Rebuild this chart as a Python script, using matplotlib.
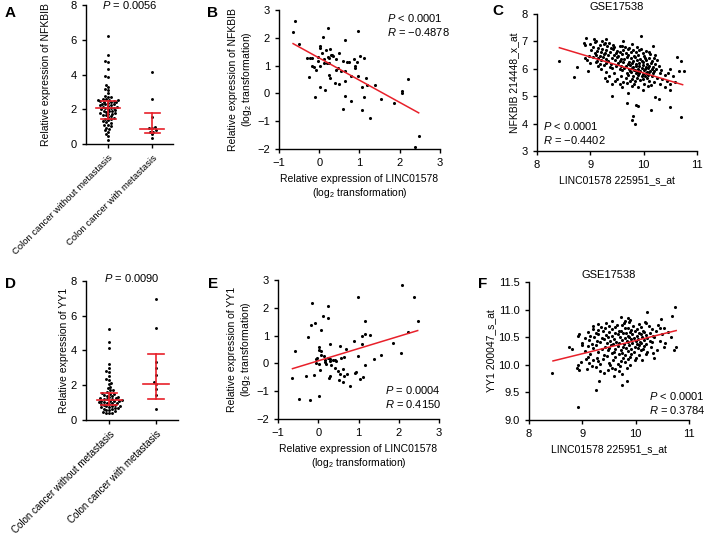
import numpy as np
import pandas as pd
import matplotlib
matplotlib.use("Agg")
import matplotlib.pyplot as plt
import seaborn as sns
from matplotlib.ticker import FormatStrFormatter

plt.rcParams['font.family'] = ['Liberation Sans', 'DejaVu Sans']
plt.rcParams['mathtext.fontset'] = 'custom'
plt.rcParams['mathtext.rm'] = 'Liberation Sans'
plt.rcParams['mathtext.it'] = 'Liberation Sans:italic'
plt.rcParams['font.size'] = 8

RED = "#e8202a"

groups = ["Colon cancer without metastasis", "Colon cancer with metastasis"]

# panel A: NFKBIB relative expression
a_no_met = [6.2, 5.12, 4.75, 4.7, 4.3, 3.9, 3.85, 3.4, 3.28, 3.15, 3.1, 2.93, 2.75, 2.72, 2.68,
            2.58, 2.57, 2.55, 2.54, 2.52, 2.5,
            2.45, 2.44, 2.42, 2.4, 2.38,
            2.32, 2.3, 2.28, 2.25, 2.22, 2.2,
            2.15, 2.12, 2.1, 2.08, 2.05, 2.03, 2.0,
            1.95, 1.92, 1.9, 1.88, 1.85,
            1.8, 1.78, 1.75, 1.72,
            1.68, 1.65, 1.6, 1.55,
            1.5, 1.45, 1.42, 1.38,
            1.3, 1.25, 1.2,
            1.12, 1.08, 1.02,
            0.95, 0.88, 0.78, 0.72, 0.6, 0.48, 0.22]
a_met = [4.12, 2.58, 1.55, 1.0, 0.95, 0.9, 0.82, 0.72, 0.68, 0.55, 0.35]
a_median = [2.05, 0.86]
a_q1 = [1.42, 0.65]
a_q3 = [2.48, 1.8]

# panel D: YY1 relative expression
d_no_met = [5.25, 4.5, 4.15, 3.2, 3.0, 2.8, 2.75, 2.55, 2.38, 2.32, 2.12, 2.05, 1.92, 1.85,
            1.75, 1.72, 1.6, 1.55, 1.5, 1.48, 1.42, 1.4, 1.38, 1.32, 1.3, 1.28, 1.25,
            1.22, 1.2, 1.18, 1.15, 1.12, 1.1, 1.1, 1.08, 1.05, 1.02, 1.0, 0.98, 0.95,
            0.92, 0.9, 0.88, 0.85, 0.82, 0.8, 0.78, 0.75, 0.72, 0.7, 0.68, 0.65, 0.62,
            0.6, 0.55, 0.5, 0.45, 0.42, 0.4, 0.38]
d_met = [6.99, 5.3, 3.35, 2.99, 2.61, 2.19, 2.07, 1.79, 1.42, 0.65]
d_median = [1.15, 2.05]
d_q1 = [0.86, 1.22]
d_q3 = [1.55, 3.8]

# panel B: LINC01578 vs NFKBIB (log2)
b_x = [-0.60, -0.66, -0.50, 0.21, 0.10, 0.97, 0.65, 0.02, 0.02, 0.17, 0.27, 0.07, 0.50,
       -0.31, -0.22, -0.19, -0.02, 0.21, 0.24, 0.28, 0.32, 0.35, 0.42, 0.59, 0.70, 0.74,
       1.01, 1.10, 0.93, 0.89, 0.90, -0.17, -0.12, -0.07, -0.03, 0.02, 0.13, 0.19, 0.23,
       0.42, 0.47, 0.55, 0.64, -0.26, 0.23, 0.26, 0.38, 0.49, 0.63, 0.78, 0.96, 1.15,
       0.02, 0.14, 1.07, 1.18, 1.39, -0.10, 0.65, 0.78, 1.12, 1.54, 0.59, 1.05, 1.85,
       2.05, 2.06, 2.21, 1.26, 2.49, 2.37, 0.13, 0.86]
b_y = [2.62, 2.22, 1.79, 2.35, 2.03, 2.23, 1.93, 1.69, 1.63, 1.56, 1.59, 1.45, 1.44,
       1.27, 1.27, 1.27, 1.30, 1.32, 1.27, 1.39, 1.39, 1.36, 1.25, 1.15, 1.13, 1.12,
       1.33, 1.27, 1.12, 0.97, 0.91, 0.99, 0.94, 0.85, 1.15, 0.97, 1.09, 1.09, 1.09,
       0.85, 0.91, 0.82, 0.79, 0.58, 0.67, 0.55, 0.37, 0.35, 0.46, 0.61, 0.64, 0.55,
       0.22, 0.13, 0.23, 0.29, 0.30, -0.13, -0.11, -0.29, -0.14, -0.20, -0.55, -0.61, -0.33,
       0.07, 0.01, 0.52, -0.89, -1.53, -1.94, 1.25, 1.23]
b_fit_x = [-0.65, 2.47]
b_fit_y = [1.79, -0.70]

# panel E: LINC01578 vs YY1 (log2)
e_x = [2.07, 2.39, 2.49, 2.24, 2.06, 1.86, 0.98, -0.16, 0.25, 0.11, 0.23, -0.17, -0.07,
       0.07, -0.25, -0.58, 0.03, 0.03, 0.06, 0.28, 0.53, 0.70, 0.88, 1.08, 1.15, 1.17,
       1.28, 1.08, 0.99, 1.39, 1.55, 1.17, -0.04, 0.07, 0.15, 0.18, 0.23, 0.28, 0.36,
       0.41, 0.44, 0.57, 0.65, 0.17, 0.28, 0.01, 0.19, 0.32, 0.41, 0.49, 0.61, 0.55,
       0.65, 0.72, 0.05, 0.26, 0.29, 0.51, 0.61, 0.79, 0.91, 0.95, 1.03, 1.10, -0.10,
       -0.30, -0.66, -0.49, -0.21, 0.03, -0.05, -0.06]
e_y = [2.81, 2.39, 1.54, 1.13, 0.36, 0.73, 2.40, 2.16, 2.05, 1.72, 1.63, 1.38, 1.44,
       1.21, 0.94, 0.46, 0.58, 0.49, 0.46, 0.71, 0.61, 0.52, 0.82, 0.97, 1.07, 1.54,
       1.02, 0.70, 0.28, 0.16, 0.31, -0.07, 0.19, 0.31, 0.25, 0.13, 0.18, 0.16, 0.13,
       0.13, 0.07, 0.19, 0.22, 0.04, 0.07, -0.02, -0.02, -0.07, -0.17, -0.29, -0.19, -0.39,
       -0.47, -0.38, -0.23, -0.51, -0.44, -0.59, -0.67, -0.80, -0.33, -0.32, -0.56, -0.50, -0.41,
       -0.47, -0.53, -1.28, -1.33, -1.16, 0.17, 0.01]
e_fit_x = [-0.64, 2.47]
e_fit_y = [-0.19, 1.18]

# panel C: GSE17538 LINC01578 vs NFKBIB
c_x = [8.92, 9.06, 9.10, 9.30,
       9.09, 9.22, 9.28, 9.61, 9.95,
       8.88, 8.90, 9.00, 9.18, 9.25, 9.35, 9.42, 9.60, 9.78, 10.18,
       9.05, 9.15, 9.32, 9.38, 9.45, 9.55, 9.65, 9.72, 9.88, 9.95,
       9.02, 9.12, 9.22, 9.30, 9.42, 9.50, 9.62, 9.70, 9.80, 9.92, 10.05,
       9.08, 9.20, 9.28, 9.36, 9.48, 9.56, 9.66, 9.76, 9.86, 9.98, 10.10,
       8.98, 9.10, 9.18, 9.26, 9.34, 9.44, 9.52, 9.60, 9.70, 9.82, 9.90, 10.00, 10.12, 10.22,
       8.90, 9.05, 9.14, 9.24, 9.30, 9.40, 9.50, 9.58, 9.68, 9.76, 9.84, 9.94, 10.02, 10.10, 10.20, 10.63,
       8.41, 8.94, 9.12, 9.20, 9.34, 9.46, 9.56, 9.64, 9.72, 9.80, 9.88, 9.96, 10.04, 10.15, 10.25, 10.70,
       9.00, 9.10, 9.18, 9.30, 9.38, 9.52, 9.62, 9.70, 9.78, 9.85, 9.92, 9.98, 10.06, 10.14, 10.22,
       9.15, 9.26, 9.36, 9.48, 9.58, 9.66, 9.74, 9.80, 9.86, 9.92, 9.98, 10.04, 10.10, 10.18, 10.28,
       8.75, 9.20, 9.40, 9.55, 9.64, 9.72, 9.78, 9.84, 9.90, 9.96, 10.02, 10.08, 10.16, 10.24, 10.32, 10.50,
       8.95, 9.30, 9.60, 9.74, 9.82, 9.88, 9.94, 10.00, 10.06, 10.12, 10.20, 10.66, 10.75,
       9.45, 9.68, 9.76, 9.86, 9.92, 9.98, 10.04, 10.10, 10.18, 10.30, 10.45,
       8.70, 9.35, 9.58, 9.70, 9.80, 9.90, 9.96, 10.02, 10.08, 10.16, 10.40, 10.55,
       9.28, 9.50, 9.66, 9.78, 9.88, 9.98, 10.06, 10.25, 10.35,
       9.32, 9.46, 9.62, 9.74, 9.84, 9.94, 10.10, 10.20, 10.44, 10.58,
       9.40, 9.55, 9.68, 9.82, 10.00, 10.14, 10.30, 10.50,
       9.60, 9.78, 9.90, 10.08, 10.40,
       9.98, 10.50, 9.71, 9.41, 10.22, 10.28, 9.69, 9.86, 9.89, 10.49, 10.13, 9.80, 10.70, 9.78, 9.84]
c_y = [7.12, 7.09, 7.03, 7.10,
       6.98, 7.02, 6.95, 7.00, 7.18,
       6.93, 6.88, 6.90, 6.86, 6.92, 6.94, 6.87, 6.85, 6.91, 6.84,
       6.80, 6.77, 6.82, 6.76, 6.79, 6.83, 6.78, 6.75, 6.81, 6.74,
       6.70, 6.66, 6.72, 6.68, 6.71, 6.65, 6.69, 6.73, 6.67, 6.70, 6.64,
       6.58, 6.62, 6.57, 6.61, 6.59, 6.63, 6.56, 6.60, 6.62, 6.58, 6.61,
       6.48, 6.52, 6.46, 6.53, 6.49, 6.51, 6.47, 6.54, 6.50, 6.46, 6.52, 6.48, 6.53, 6.50,
       6.40, 6.43, 6.38, 6.42, 6.36, 6.41, 6.44, 6.37, 6.42, 6.39, 6.43, 6.36, 6.41, 6.38, 6.40, 6.42,
       6.30, 6.33, 6.28, 6.32, 6.27, 6.31, 6.29, 6.34, 6.26, 6.30, 6.33, 6.28, 6.31, 6.27, 6.32, 6.27,
       6.20, 6.23, 6.18, 6.22, 6.17, 6.21, 6.24, 6.19, 6.22, 6.16, 6.20, 6.23, 6.18, 6.21, 6.17,
       6.10, 6.13, 6.08, 6.12, 6.09, 6.11, 6.14, 6.07, 6.12, 6.09, 6.13, 6.08, 6.11, 6.07, 6.10,
       6.05, 6.00, 6.03, 5.98, 6.02, 5.99, 6.04, 5.97, 6.01, 6.03, 5.98, 6.02, 5.99, 6.01, 5.97, 6.00,
       5.93, 5.90, 5.94, 5.91, 5.95, 5.89, 5.92, 5.94, 5.90, 5.93, 5.91, 5.93, 5.91,
       5.85, 5.83, 5.87, 5.84, 5.86, 5.82, 5.85, 5.88, 5.83, 5.86, 5.84,
       5.69, 5.75, 5.73, 5.77, 5.74, 5.76, 5.72, 5.75, 5.78, 5.73, 5.76, 5.74,
       5.65, 5.63, 5.67, 5.64, 5.66, 5.62, 5.65, 5.67, 5.63,
       5.55, 5.57, 5.53, 5.56, 5.54, 5.58, 5.55, 5.53, 5.56, 5.52,
       5.45, 5.43, 5.47, 5.44, 5.46, 5.42, 5.45, 5.44,
       5.35, 5.37, 5.33, 5.36, 5.34,
       5.23, 5.23, 5.10, 5.02, 4.96, 4.90, 4.74, 4.69, 4.65, 4.59, 4.50, 4.29, 4.23, 4.13, 3.97]
c_fit_x = [8.42, 10.73]
c_fit_y = [6.77, 5.42]

# panel F: GSE17538 LINC01578 vs YY1
f_x = [9.72, 9.85, 10.48,
       9.55, 9.80, 9.90, 10.18,
       9.30, 9.45, 9.65, 9.78, 9.88, 10.06, 10.20, 10.42,
       9.20, 9.35, 9.50, 9.62, 9.75, 9.85, 9.95, 10.10, 10.25, 10.53,
       9.20, 9.30, 9.42, 9.55, 9.68, 9.80, 9.92, 10.02, 10.14, 10.30, 10.45,
       9.10, 9.25, 9.38, 9.50, 9.62, 9.72, 9.82, 9.90, 9.98, 10.06, 10.15, 10.26, 10.38, 10.60,
       8.94, 9.15, 9.30, 9.44, 9.56, 9.66, 9.76, 9.86, 9.94, 10.02, 10.10, 10.20, 10.32, 10.50,
       8.92, 9.05, 9.22, 9.36, 9.48, 9.60, 9.70, 9.80, 9.88, 9.96, 10.04, 10.12, 10.22, 10.35, 10.66,
       9.12, 9.28, 9.40, 9.52, 9.64, 9.74, 9.84, 9.92, 10.00, 10.08, 10.16, 10.26, 10.45,
       9.00, 9.18, 9.34, 9.46, 9.58, 9.68, 9.78, 9.86, 9.94, 10.02, 10.10, 10.20, 10.30, 10.55,
       8.99, 9.10, 9.26, 9.42, 9.54, 9.66, 9.76, 9.88, 9.98, 10.06, 10.16, 10.28, 10.53,
       8.75, 8.80, 9.20, 9.36, 9.50, 9.62, 9.72, 9.82, 9.92, 10.04, 10.14, 10.40, 10.75, 10.72,
       9.05, 9.30, 9.48, 9.60, 9.74, 9.86, 9.96, 10.10, 10.22, 10.32,
       9.15, 9.40, 9.55, 9.68, 9.80, 9.92, 10.06, 10.20,
       9.10, 9.28, 9.46, 9.62, 9.76, 9.90, 10.00, 10.34,
       9.06, 9.20, 9.38, 9.58, 9.72, 9.85, 9.98, 10.12,
       8.98, 9.12, 9.30, 9.50, 9.66, 9.80,
       8.92, 9.18, 9.33, 9.52, 9.70, 9.90,
       8.90, 9.08, 9.25, 9.56, 9.62, 9.83,
       8.94, 9.33, 9.48, 9.69,
       8.44, 9.40, 9.75, 9.60, 9.31, 9.83, 9.74, 9.26, 8.91, 10.73, 10.22, 10.68]
f_y = [10.86, 10.84, 10.83,
       10.80, 10.79, 10.81, 10.78,
       10.74, 10.76, 10.73, 10.75, 10.77, 10.74, 10.76, 10.73,
       10.70, 10.68, 10.71, 10.69, 10.72, 10.67, 10.70, 10.68, 10.71, 10.66,
       10.65, 10.63, 10.66, 10.64, 10.62, 10.66, 10.63, 10.65, 10.62, 10.64, 10.66,
       10.60, 10.58, 10.61, 10.59, 10.57, 10.61, 10.58, 10.60, 10.62, 10.57, 10.60, 10.58, 10.61, 10.59,
       10.55, 10.53, 10.56, 10.54, 10.52, 10.55, 10.57, 10.53, 10.55, 10.52, 10.56, 10.54, 10.53, 10.56,
       10.52, 10.49, 10.50, 10.48, 10.51, 10.47, 10.50, 10.48, 10.51, 10.49, 10.47, 10.50, 10.48, 10.51, 10.51,
       10.45, 10.43, 10.46, 10.44, 10.42, 10.45, 10.43, 10.46, 10.44, 10.42, 10.45, 10.43, 10.44,
       10.40, 10.38, 10.41, 10.39, 10.37, 10.40, 10.38, 10.41, 10.39, 10.37, 10.40, 10.38, 10.41, 10.39,
       10.36, 10.34, 10.35, 10.33, 10.36, 10.34, 10.32, 10.35, 10.33, 10.36, 10.34, 10.33, 10.33,
       10.32, 10.28, 10.30, 10.28, 10.31, 10.29, 10.27, 10.30, 10.28, 10.31, 10.29, 10.27, 10.32, 10.26,
       10.25, 10.23, 10.26, 10.24, 10.22, 10.25, 10.23, 10.26, 10.24, 10.22,
       10.20, 10.18, 10.21, 10.19, 10.17, 10.20, 10.18, 10.19,
       10.15, 10.13, 10.16, 10.14, 10.12, 10.15, 10.13, 10.12,
       10.10, 10.08, 10.11, 10.09, 10.07, 10.10, 10.08, 10.09,
       10.05, 10.03, 10.06, 10.04, 10.02, 10.05,
       10.00, 9.98, 10.01, 9.99, 9.97, 10.00,
       9.95, 9.93, 9.96, 9.94, 9.92, 9.95,
       9.90, 9.89, 9.91, 9.88,
       9.85, 9.85, 9.84, 9.80, 9.71, 9.71, 9.63, 9.54, 9.24, 11.04, 10.96, 10.89]
f_fit_x = [8.45, 10.76]
f_fit_y = [10.07, 10.62]


def style(ax):
    for s in ["top", "right"]:
        ax.spines[s].set_visible(False)
    ax.spines["left"].set_linewidth(1.0)
    ax.spines["bottom"].set_linewidth(1.0)
    ax.tick_params(direction="out", length=3, width=1, labelsize=8)


def swarm_panel(ax, g1, g2, med, q1, q3, pval, ylabel, ypad, xfs):
    df = pd.DataFrame({"grp": [groups[0]] * len(g1) + [groups[1]] * len(g2),
                       "val": g1 + g2})
    sns.swarmplot(data=df, x="grp", y="val", order=groups, ax=ax,
                  color="black", size=2.1, linewidth=0)
    for i in range(2):
        ax.plot([i - 0.27, i + 0.27], [med[i], med[i]], color=RED, lw=1.2, zorder=5)
        ax.plot([i - 0.17, i + 0.17], [q1[i], q1[i]], color=RED, lw=1.2, zorder=5)
        ax.plot([i - 0.17, i + 0.17], [q3[i], q3[i]], color=RED, lw=1.2, zorder=5)
        ax.plot([i, i], [q1[i], q3[i]], color=RED, lw=1.2, zorder=5)
    style(ax)
    ax.set_xlim(-0.5, 1.47)
    ax.set_ylim(0, 8)
    ax.set_yticks([0, 2, 4, 6, 8])
    ax.set_xlabel("")
    ax.set_ylabel(ylabel, fontsize=7.5, labelpad=ypad)
    ax.set_xticks([0, 1])
    ax.set_xticklabels(groups, rotation=45, ha="right", rotation_mode="anchor", fontsize=xfs)
    ax.text(0.5, 1.0, pval, transform=ax.transAxes, ha="center", va="center", fontsize=8)


def scatter_panel(ax, x, y, fx, fy, xlim, ylim, xticks, yticks, xlabel, ylabel,
                  txt, tx, ty, ha="left"):
    ax.scatter(x, y, s=5, color="black", linewidths=0, zorder=3)
    ax.plot(fx, fy, color=RED, lw=1.1, zorder=4)
    ax.set_xlim(*xlim)
    ax.set_ylim(*ylim)
    ax.set_xticks(xticks)
    ax.set_yticks(yticks)
    ax.set_xlabel(xlabel, fontsize=7.5)
    ax.set_ylabel(ylabel, fontsize=7.5, labelpad=2)
    ax.text(tx, ty, txt[0], transform=ax.transAxes, ha=ha, va="center", fontsize=8)
    ax.text(tx, ty - 0.1, txt[1], transform=ax.transAxes, ha=ha, va="center", fontsize=8)
    style(ax)


fig = plt.figure(figsize=(7.09, 5.34), dpi=100)

axA = fig.add_axes([0.1213, 0.7303, 0.1227, 0.2603])
axB = fig.add_axes([0.3935, 0.7210, 0.2271, 0.2603])
axC = fig.add_axes([0.7574, 0.7172, 0.2257, 0.2566])
axD = fig.add_axes([0.1213, 0.2135, 0.1298, 0.2603])
axE = fig.add_axes([0.3921, 0.2154, 0.2271, 0.2603])
axF = fig.add_axes([0.7461, 0.2135, 0.2257, 0.2584])

swarm_panel(axA, a_no_met, a_met, a_median, a_q1, a_q3,
            "$\\it{P}$ = 0.0056", "Relative expression of NFKBIB", 14, 6.8)
swarm_panel(axD, d_no_met, d_met, d_median, d_q1, d_q3,
            "$\\it{P}$ = 0.0090", "Relative expression of YY1", 1, 7.0)
axD.texts[0].set_position((0.5, 1.02))

log_xlabel = "Relative expression of LINC01578\n(log$_2$ transformation)"
scatter_panel(axB, b_x, b_y, b_fit_x, b_fit_y, (-1, 3), (-2, 3), [-1, 0, 1, 2, 3],
              [-2, -1, 0, 1, 2, 3], log_xlabel,
              "Relative expression of NFKBIB\n(log$_2$ transformation)",
              ["$\\it{P}$ < 0.0001", "$\\it{R}$ = \u22120.4878"], 0.67, 0.94)
scatter_panel(axE, e_x, e_y, e_fit_x, e_fit_y, (-1, 3), (-2, 3), [-1, 0, 1, 2, 3],
              [-2, -1, 0, 1, 2, 3], log_xlabel,
              "Relative expression of YY1\n(log$_2$ transformation)",
              ["$\\it{P}$ = 0.0004", "$\\it{R}$ = 0.4150"], 0.665, 0.21)
scatter_panel(axC, c_x, c_y, c_fit_x, c_fit_y, (8, 11), (3, 8), [8, 9, 10, 11],
              [3, 4, 5, 6, 7, 8], "LINC01578 225951_s_at", "NFKBIB 214448_x_at",
              ["$\\it{P}$ < 0.0001", "$\\it{R}$ = \u22120.4402"], 0.04, 0.18)
scatter_panel(axF, f_x, f_y, f_fit_x, f_fit_y, (8, 11), (9, 11.5), [8, 9, 10, 11],
              [9.0, 9.5, 10.0, 10.5, 11.0, 11.5], "LINC01578 225951_s_at", "YY1 200047_s_at",
              ["$\\it{P}$ < 0.0001", "$\\it{R}$ = 0.3784"], 1.1, 0.175, ha="right")
axF.yaxis.set_major_formatter(FormatStrFormatter("%.1f"))
axC.set_title("GSE17538", fontsize=8, pad=3)
axF.set_title("GSE17538", fontsize=8, pad=3)

for lab, x, y in [("A", 10, 13), ("B", 213, 13), ("C", 498, 11),
                  ("D", 10, 284), ("E", 213, 284), ("F", 483, 284)]:
    fig.text(x / 709, 1 - y / 534, lab, fontsize=11, fontweight="bold", ha="center", va="center")

fig.savefig("out.png", dpi=100)
